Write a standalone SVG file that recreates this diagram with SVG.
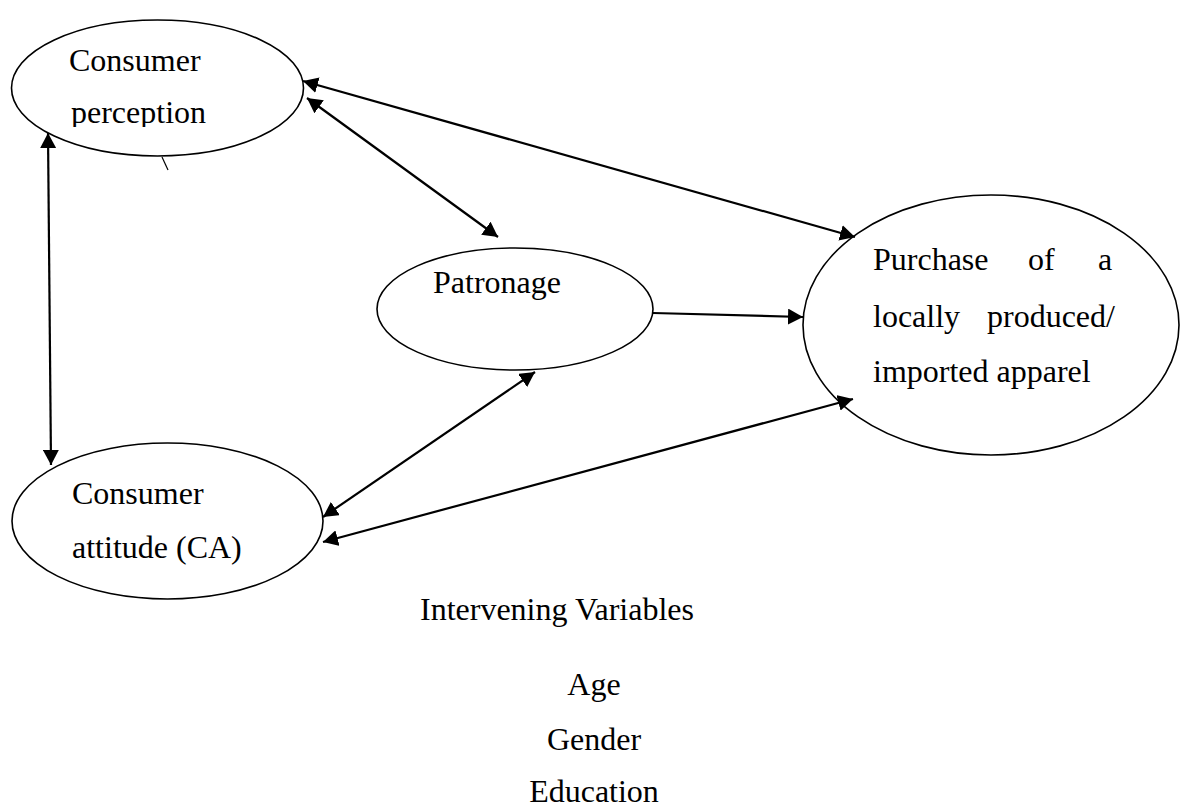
<svg xmlns="http://www.w3.org/2000/svg" width="1181" height="807" viewBox="0 0 1181 807">
<style>
.node{fill:#fff;stroke:#000;stroke-width:1.6}
.t{font-family:"Liberation Serif","Times New Roman",serif;font-size:32px;fill:#000}
.c{stroke:#000;stroke-width:2.2;fill:none}
</style>
<defs>
<marker id="ah" viewBox="0 0 15 16" refX="15" refY="8" markerWidth="15" markerHeight="16" markerUnits="userSpaceOnUse" orient="auto-start-reverse">
<path d="M0,0 L15,8 L0,16 z" fill="#000"/>
</marker>
<clipPath id="clipP"><rect x="0" y="0" width="320" height="127"/></clipPath>
</defs>
<rect width="1181" height="807" fill="#fff"/>
<g id="perception">
<ellipse class="node" cx="157.5" cy="88" rx="146" ry="68"/>
<text class="t" x="69" y="71">Consumer</text>
<text class="t" x="71" y="123" clip-path="url(#clipP)">perception</text>
<line x1="162" y1="157" x2="168" y2="170" stroke="#000" stroke-width="1.2"/>
</g>
<g id="patronage">
<ellipse class="node" cx="515" cy="309" rx="138" ry="61"/>
<text class="t" x="433" y="293">Patronage</text>
</g>
<g id="purchase">
<ellipse class="node" cx="991" cy="325" rx="188" ry="130"/>
<text class="t" x="873" y="270">Purchase</text>
<text class="t" x="1028" y="270">of</text>
<text class="t" x="1098" y="270">a</text>
<text class="t" x="873" y="327">locally</text>
<text class="t" x="987" y="327">produced/</text>
<text class="t" x="873" y="382">imported apparel</text>
</g>
<g id="attitude">
<ellipse class="node" cx="167.5" cy="521" rx="155.5" ry="78"/>
<text class="t" x="72" y="504">Consumer</text>
<text class="t" x="72" y="558">attitude (CA)</text>
</g>
<g id="connectors">
<line class="c" x1="48" y1="133" x2="51" y2="465" marker-start="url(#ah)" marker-end="url(#ah)"/>
<line class="c" x1="303" y1="81" x2="855" y2="237" marker-start="url(#ah)" marker-end="url(#ah)"/>
<line class="c" x1="307" y1="98" x2="498" y2="237" marker-start="url(#ah)" marker-end="url(#ah)"/>
<line class="c" x1="653" y1="313" x2="803" y2="317" marker-end="url(#ah)"/>
<line class="c" x1="535" y1="372" x2="323" y2="517" marker-start="url(#ah)" marker-end="url(#ah)"/>
<line class="c" x1="323" y1="542" x2="853" y2="399" marker-start="url(#ah)" marker-end="url(#ah)"/>
</g>
<g id="intervening">
<text class="t" x="557" y="620" text-anchor="middle">Intervening Variables</text>
<text class="t" x="594" y="695" text-anchor="middle">Age</text>
<text class="t" x="594" y="750" text-anchor="middle">Gender</text>
<text class="t" x="594" y="802" text-anchor="middle">Education</text>
</g>
</svg>
